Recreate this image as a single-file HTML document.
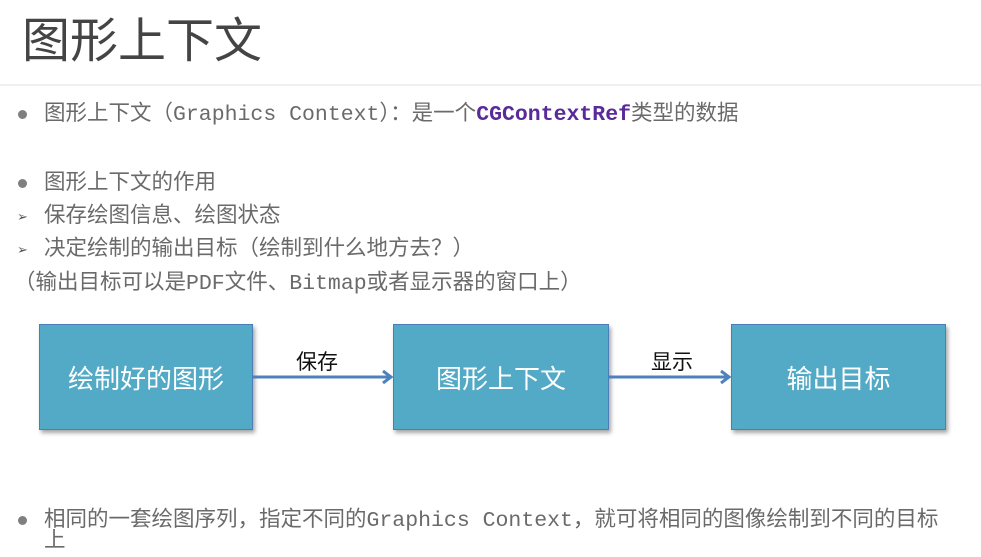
<!DOCTYPE html>
<html><head><meta charset="utf-8"><style>
body{margin:0;width:981px;height:557px;background:#fff;position:relative;overflow:hidden;font-family:"Liberation Sans","Noto Sans CJK SC",sans-serif;}
.t{position:absolute;white-space:nowrap;color:#6a6a6a;font-size:21.5px;line-height:24px;font-family:"Liberation Mono","Noto Sans CJK SC",monospace;}
.dot{position:absolute;width:9px;height:9px;border-radius:50%;background:#7f7f7f;}
.arr{position:absolute;color:#555;font-size:13px;}
.box{position:absolute;top:324px;height:104px;background:#52aac6;border:1.5px solid #4a7ebb;box-shadow:2px 3px 4px rgba(0,0,0,.35);color:#fff;font-size:26px;display:flex;align-items:center;justify-content:center;}
</style></head><body>
<div style="position:absolute;left:22px;top:13px;font-size:48px;color:#444;line-height:58px;">图形上下文</div>
<div style="position:absolute;left:0;top:84px;width:981px;height:2px;background:#f0f0f0"></div>
<div class="dot" style="left:18px;top:110px"></div>
<div class="t" style="left:44px;top:103px">图形上下文（Graphics Context）：是一个<span style="color:#5a2a9a;font-weight:bold">CGContextRef</span>类型的数据</div>
<div class="dot" style="left:18px;top:179px"></div>
<div class="t" style="left:44px;top:172px">图形上下文的作用</div>
<div class="arr" style="left:17px;top:209px">➢</div>
<div class="t" style="left:44px;top:205px">保存绘图信息、绘图状态</div>
<div class="arr" style="left:17px;top:242px">➢</div>
<div class="t" style="left:44px;top:238px">决定绘制的输出目标（绘制到什么地方去？）</div>
<div class="t" style="left:14px;top:272px">（输出目标可以是PDF文件、Bitmap或者显示器的窗口上）</div>
<div class="box" style="left:39px;width:212px">绘制好的图形</div>
<div class="box" style="left:393px;width:214px">图形上下文</div>
<div class="box" style="left:731px;width:213px">输出目标</div>
<svg style="position:absolute;left:0;top:0" width="981" height="557">
<g stroke="#4f81bd" stroke-width="3" fill="none">
<line x1="253" y1="377" x2="390" y2="377"/><polyline points="383,371 391,377 383,383"/>
<line x1="609" y1="377" x2="728" y2="377"/><polyline points="721,371 729,377 721,383"/>
</g></svg>
<div style="position:absolute;left:296px;top:346px;font-size:21px;color:#111">保存</div>
<div style="position:absolute;left:651px;top:346px;font-size:21px;color:#111">显示</div>
<div class="dot" style="left:18px;top:516px"></div>
<div class="t" style="left:44px;top:509px">相同的一套绘图序列，指定不同的Graphics Context，就可将相同的图像绘制到不同的目标</div>
<div class="t" style="left:44px;top:530px">上</div>
</body></html>
